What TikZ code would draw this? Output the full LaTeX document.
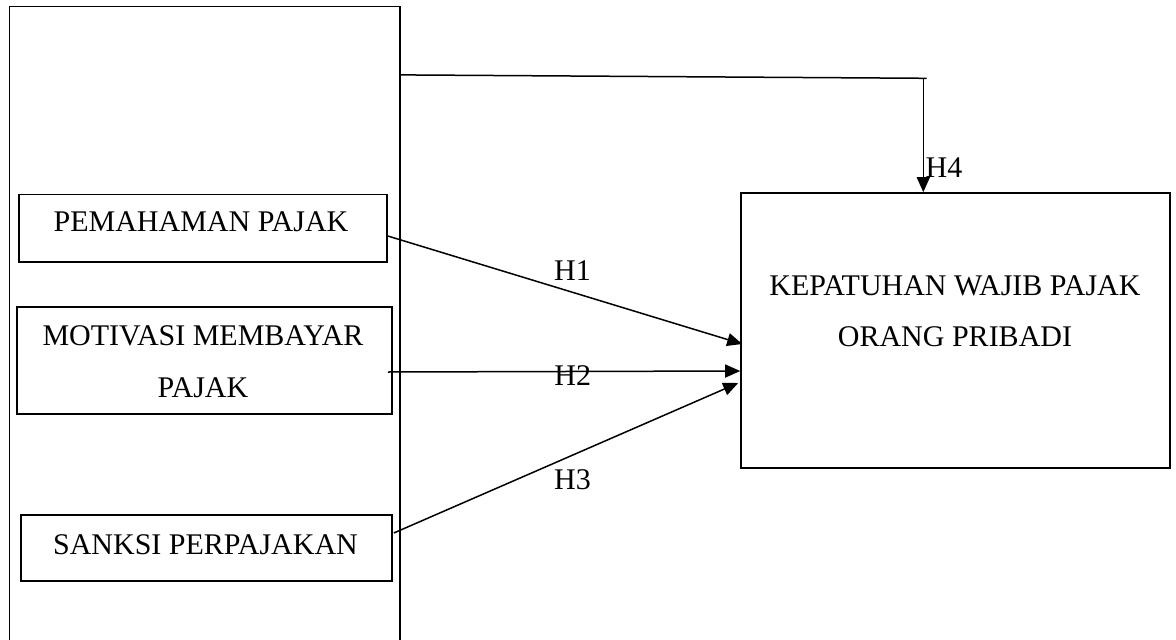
\documentclass[tikz,border=0pt]{standalone}
\usepackage{fontspec}
\setmainfont{Liberation Serif}
\usetikzlibrary{arrows.meta,calc}
\tikzset{
  box/.style={draw=black, line width=1.6pt, inner sep=0pt, anchor=center},
  txt/.style={anchor=base, inner sep=0pt, align=center, font=\fontsize{30}{52}\selectfont},
  lab/.style={anchor=base, inner sep=0pt, font=\fontsize{30}{36}\selectfont},
  link/.style={draw=black, line width=1.5pt},
  arr/.style={link, -{Triangle[length=15pt,width=13pt]}}
}
\begin{document}
\begin{tikzpicture}[x=1pt,y=-1pt]
\useasboundingbox (0,0) rectangle (1176,640);
\clip (0,0) rectangle (1176,640);
% outer group box
\node[box, minimum width=390.5pt, minimum height=653.5pt] (grp) at (204.75,333.25) {};
% variable boxes
\node[box, minimum width=368pt, minimum height=67.5pt] (pem) at (203,228.25) {};
\node[box, minimum width=375pt, minimum height=107pt] (mot) at (204.5,360.5) {};
\node[box, minimum width=371pt, minimum height=66pt] (san) at (206.5,548) {};
\node[box, minimum width=429pt, minimum height=275pt] (keb) at (955.5,330.5) {};
% texts (base = last line)
\node[txt] (tpem) at (201,231.7) {PEMAHAMAN PAJAK};
\node[txt] (tmot) at (203,397) {MOTIVASI MEMBAYAR\\PAJAK};
\node[txt] (tsan) at (205.5,554) {SANKSI PERPAJAKAN};
\node[txt, font=\fontsize{30}{51}\selectfont] (tkeb) at (955,346.7) {KEPATUHAN WAJIB PAJAK\\ORANG PRIBADI};
% connectors
\draw[arr] ([yshift=-7.75pt]pem.east) -- ([xshift=2pt,yshift=-13.5pt]keb.west);
\draw[arr] ([xshift=-5pt,yshift=-11.5pt]mot.east) -- ([yshift=-40.5pt]keb.west);
\draw[arr] ([xshift=1pt,yshift=15pt]san.east) -- ([xshift=-2pt,yshift=-52.5pt]keb.west);
\coordinate (tend) at (926.5,78.3);
\coordinate (bend) at (923.3,78.3);
\draw[link] ([yshift=-69.2pt]grp.north east) -- (tend);
\draw[arr] (bend) -- (bend |- keb.north);
% labels
\node[lab] (h1) at (572.5,280) {H1};
\node[lab] (h2) at (572.8,385) {H2};
\node[lab] (h3) at (572.5,489) {H3};
\node[lab] (h4) at (944,177) {H4};
\end{tikzpicture}
\end{document}
